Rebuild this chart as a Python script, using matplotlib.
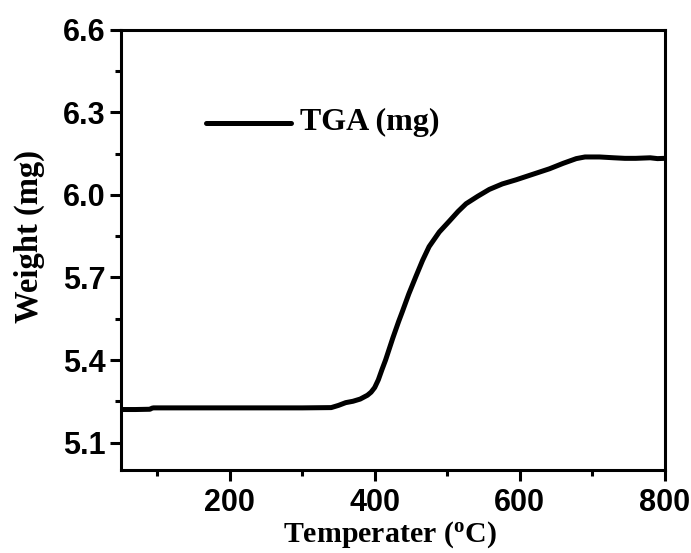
import matplotlib.pyplot as plt
import numpy as np
from matplotlib.ticker import MultipleLocator

plt.rcParams['mathtext.fontset'] = 'custom'
plt.rcParams['mathtext.bf'] = 'Liberation Serif:bold'
plt.rcParams['mathtext.rm'] = 'Liberation Serif:bold'

# TGA curve
temp = [50, 70, 90, 93, 95, 150, 200, 250, 300, 340, 350, 360, 370, 380, 390,
        395, 400, 405, 410, 415, 420, 425, 433, 438, 447, 457, 466, 475, 489,
        503, 515, 526, 542, 558, 576, 595, 618, 641, 660, 678, 690, 710, 730,
        745, 760, 780, 790, 800]
weight = [5.220, 5.220, 5.221, 5.225, 5.226, 5.226, 5.226, 5.226, 5.226, 5.227,
          5.235, 5.245, 5.250, 5.258, 5.272, 5.283, 5.300, 5.328, 5.365, 5.400,
          5.440, 5.480, 5.540, 5.575, 5.640, 5.705, 5.762, 5.812, 5.865, 5.905,
          5.940, 5.968, 5.995, 6.020, 6.040, 6.055, 6.075, 6.095, 6.115, 6.132,
          6.138, 6.138, 6.135, 6.133, 6.133, 6.135, 6.132, 6.133]

xticks = [200, 400, 600, 800]
yticks = [5.1, 5.4, 5.7, 6.0, 6.3, 6.6]

fig = plt.figure(figsize=(6.91, 5.53), dpi=100)
ax = fig.add_axes([0.175, 0.150, 0.787, 0.796])

ax.plot(temp, weight, color='black', lw=3.6, solid_capstyle='round')

# legend drawn by hand like the original
ax.plot([167, 285], [6.262, 6.262], color='black', lw=3.6, solid_capstyle='round')
ax.text(297, 6.262, 'TGA (mg)', family='Liberation Serif', weight='bold',
        fontsize=23, va='center', ha='left')

ax.set_xlim(50, 800)
ax.set_ylim(5.0, 6.6)
ax.set_xticks(xticks)
ax.set_yticks(yticks)
ax.xaxis.set_minor_locator(MultipleLocator(100))
ax.yaxis.set_minor_locator(MultipleLocator(0.15))

for s in ax.spines.values():
    s.set_linewidth(2.2)

ax.tick_params(which='major', direction='out', length=8, width=2.2, top=False, right=False)
ax.tick_params(which='minor', direction='out', length=4.5, width=2.2, top=False, right=False)
ax.tick_params(axis='x', pad=5)
ax.tick_params(axis='y', pad=3)

for lbl in ax.get_xticklabels():
    lbl.set_fontfamily('Liberation Sans')
    lbl.set_fontweight('bold')
    lbl.set_fontsize(22)
for lbl in ax.get_yticklabels():
    lbl.set_fontfamily('Liberation Sans')
    lbl.set_fontweight('bold')
    lbl.set_fontsize(22)

ax.set_xlabel(r'Temperater ($\mathbf{^o}$C)', family='Liberation Serif',
              weight='bold', fontsize=21.5)
ax.xaxis.set_label_coords(0.495, -0.112)
ax.set_ylabel('Weight (mg)', family='Liberation Serif', weight='bold',
              fontsize=23.5)
ax.yaxis.set_label_coords(-0.14, 0.53)

fig.savefig('out.png', dpi=100)
